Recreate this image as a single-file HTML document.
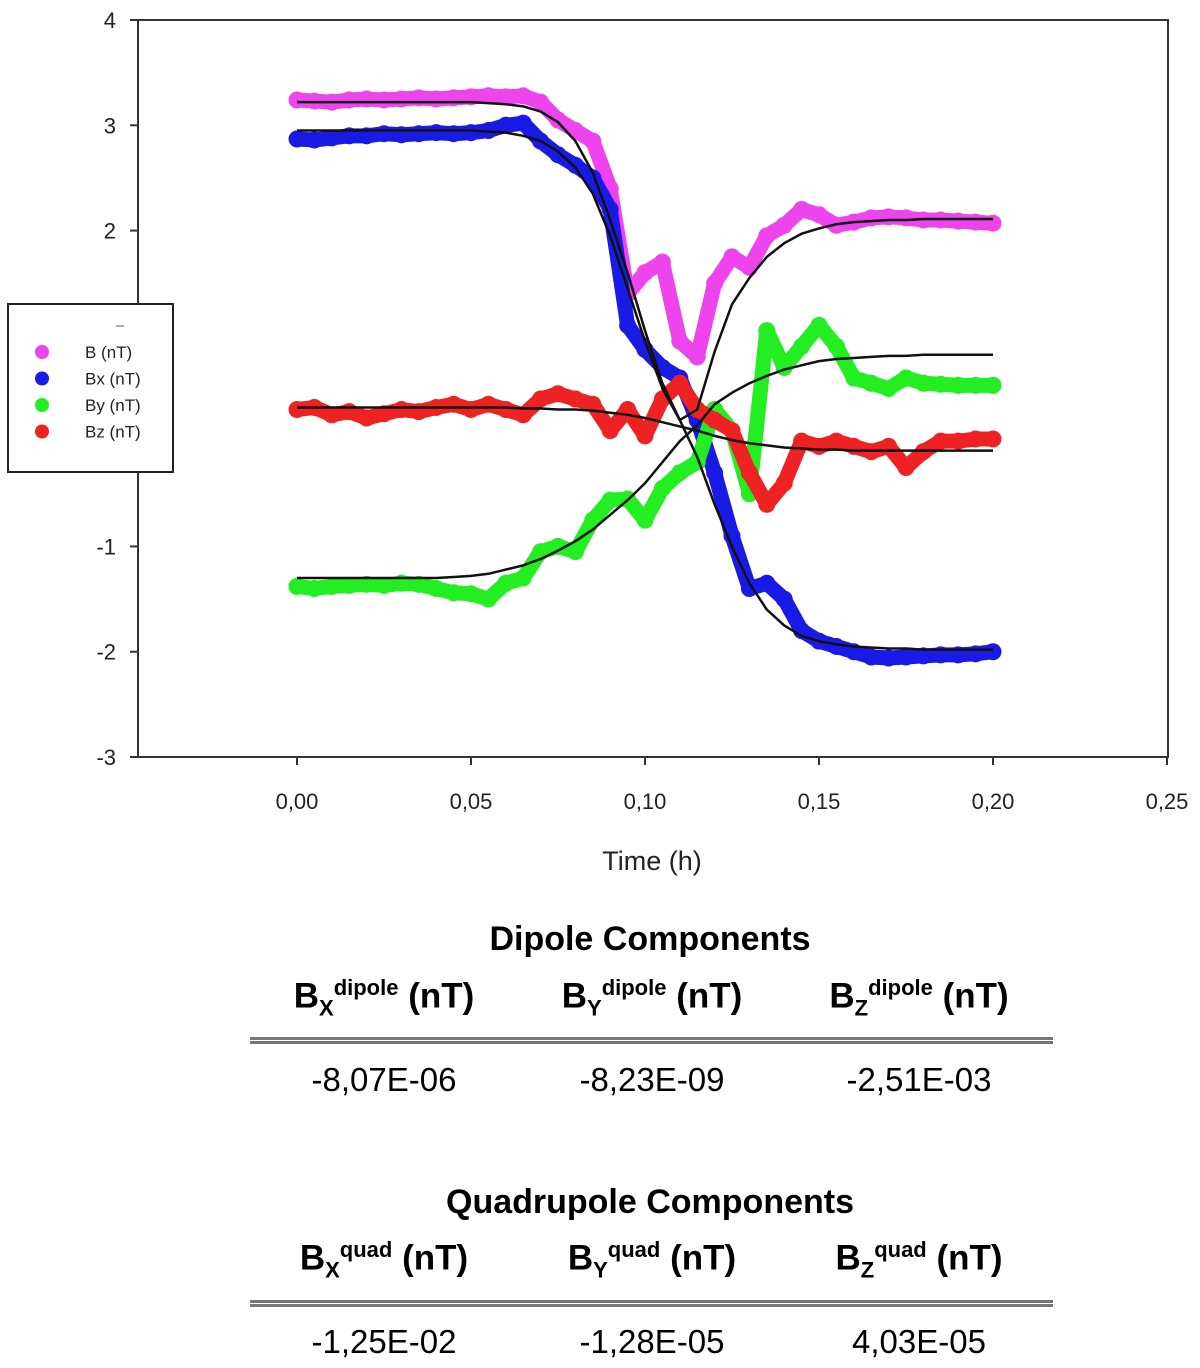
<!DOCTYPE html>
<html><head><meta charset="utf-8"><style>
body{margin:0;background:#fff;width:1200px;height:1368px;overflow:hidden;font-family:"Liberation Sans",sans-serif}
.t{position:absolute;left:50px;width:1200px;text-align:center}
.tbl{position:absolute;left:250px;width:803px}
.h{position:absolute;font-weight:bold;font-size:35px;text-align:center;width:268px}
.v{position:absolute;font-size:33px;text-align:center;width:268px}
.rule{position:absolute;left:0;width:803px;height:1px;border-top:3px solid #777;border-bottom:3px solid #777;background:#fff}
sup{font-size:22px}
sub{font-size:22px}
</style></head><body>
<svg id="chart" width="1200" height="900" style="position:absolute;left:0;top:0" font-family="Liberation Sans, sans-serif"></svg>
<div class="t" style="top:920px;font-size:34px;font-weight:bold">Dipole Components</div>
<div class="tbl" style="top:975px">
 <div class="h" style="left:0">B<sub>X</sub><sup>dipole</sup> (nT)</div>
 <div class="h" style="left:268px">B<sub>Y</sub><sup>dipole</sup> (nT)</div>
 <div class="h" style="left:535px">B<sub>Z</sub><sup>dipole</sup> (nT)</div>
 <div class="rule" style="top:62px"></div>
 <div class="v" style="left:0;top:86px">-8,07E-06</div>
 <div class="v" style="left:268px;top:86px">-8,23E-09</div>
 <div class="v" style="left:535px;top:86px">-2,51E-03</div>
</div>
<div class="t" style="top:1183px;font-size:34px;font-weight:bold">Quadrupole Components</div>
<div class="tbl" style="top:1237px">
 <div class="h" style="left:0">B<sub>X</sub><sup>quad</sup> (nT)</div>
 <div class="h" style="left:268px">B<sub>Y</sub><sup>quad</sup> (nT)</div>
 <div class="h" style="left:535px">B<sub>Z</sub><sup>quad</sup> (nT)</div>
 <div class="rule" style="top:63px"></div>
 <div class="v" style="left:0;top:86px">-1,25E-02</div>
 <div class="v" style="left:268px;top:86px">-1,28E-05</div>
 <div class="v" style="left:535px;top:86px">4,03E-05</div>
</div>
<script>
const times=[0,0.005,0.01,0.015,0.02,0.025,0.03,0.035,0.04,0.045,0.05,0.055,0.06,0.065,0.07,0.075,0.08,0.085,0.09,0.095,0.1,0.105,0.11,0.115,0.12,0.125,0.13,0.135,0.14,0.145,0.15,0.155,0.16,0.165,0.17,0.175,0.18,0.185,0.19,0.195,0.2];
const bData=[3.24,3.23,3.22,3.24,3.25,3.24,3.25,3.26,3.25,3.26,3.27,3.28,3.27,3.28,3.22,3.05,2.95,2.85,2.4,1.4,1.6,1.7,0.95,0.8,1.5,1.75,1.65,1.95,2.05,2.2,2.15,2.05,2.08,2.12,2.13,2.12,2.1,2.1,2.09,2.08,2.07];
const bxData=[2.87,2.86,2.88,2.9,2.9,2.92,2.91,2.92,2.93,2.92,2.93,2.95,3.0,3.02,2.85,2.72,2.62,2.5,2.2,1.1,0.87,0.7,0.6,0.2,-0.3,-0.9,-1.4,-1.35,-1.5,-1.8,-1.9,-1.95,-2.0,-2.05,-2.06,-2.05,-2.04,-2.03,-2.03,-2.02,-2.0];
const byData=[-1.38,-1.4,-1.38,-1.37,-1.36,-1.37,-1.35,-1.36,-1.4,-1.44,-1.45,-1.5,-1.35,-1.3,-1.05,-1.0,-1.05,-0.75,-0.56,-0.55,-0.75,-0.45,-0.3,-0.2,0.3,0.1,-0.5,1.05,0.7,0.9,1.1,0.9,0.6,0.55,0.5,0.6,0.55,0.54,0.53,0.53,0.53];
const bzData=[0.3,0.32,0.25,0.28,0.22,0.26,0.3,0.28,0.32,0.35,0.3,0.35,0.3,0.25,0.4,0.45,0.4,0.35,0.1,0.3,0.05,0.4,0.55,0.3,0.2,0.1,-0.3,-0.6,-0.4,0,-0.05,0,-0.05,-0.1,-0.05,-0.25,-0.1,0,0.0,0.02,0.02];
const bFit=[3.22,3.22,3.22,3.22,3.22,3.22,3.22,3.22,3.22,3.22,3.22,3.21,3.2,3.18,3.13,3.03,2.85,2.55,2.1,1.6,1.05,0.55,0.2,0.3,0.85,1.3,1.55,1.75,1.88,1.97,2.02,2.06,2.08,2.09,2.1,2.1,2.11,2.11,2.11,2.11,2.11];
const bxFit=[2.95,2.95,2.95,2.95,2.95,2.95,2.95,2.95,2.95,2.95,2.95,2.94,2.93,2.9,2.85,2.75,2.6,2.35,1.95,1.45,0.95,0.5,0.2,-0.15,-0.6,-1.0,-1.35,-1.6,-1.75,-1.85,-1.9,-1.93,-1.95,-1.96,-1.97,-1.97,-1.98,-1.98,-1.98,-1.98,-1.98];
const byFit=[-1.3,-1.3,-1.3,-1.3,-1.3,-1.3,-1.3,-1.3,-1.3,-1.29,-1.28,-1.26,-1.22,-1.18,-1.12,-1.04,-0.95,-0.84,-0.7,-0.56,-0.4,-0.2,0.0,0.15,0.35,0.46,0.55,0.62,0.68,0.72,0.76,0.78,0.79,0.8,0.81,0.81,0.82,0.82,0.82,0.82,0.82];
const bzFit=[0.32,0.32,0.32,0.32,0.32,0.32,0.32,0.32,0.32,0.32,0.32,0.32,0.32,0.31,0.31,0.3,0.3,0.29,0.27,0.25,0.22,0.18,0.14,0.1,0.05,0.01,-0.02,-0.04,-0.06,-0.07,-0.08,-0.08,-0.09,-0.09,-0.09,-0.09,-0.09,-0.09,-0.09,-0.09,-0.09];
const yTicks=[4,3,2,1,0,-1,-2,-3];
const yTickLabels=["4","3","2","","","-1","-2","-3"];
const xTicks=[0,0.05,0.1,0.15,0.2,0.25];
const xTickLabels=["0,00","0,05","0,10","0,15","0,20","0,25"];
const NS="http://www.w3.org/2000/svg";
const svg=document.getElementById('chart');
const L=138,R=1168,T=20,B=757;
const sx=v=>297+(v-0)*(993-297)/0.2;
const sy=v=>T+(4-v)*(B-T)/7;
function mk(tag,a,parent){const e=document.createElementNS(NS,tag);for(const k in a)e.setAttribute(k,a[k]);(parent||svg).appendChild(e);return e;}
let frame=mk('rect',{x:L,y:T,width:R-L,height:B-T,fill:'none',stroke:'#333','stroke-width':2});


yTicks.forEach((v,i)=>{
 let tk=mk('line',{x1:L-8,x2:L,y1:sy(v),y2:sy(v),stroke:'#333','stroke-width':2});
 
 
 let tx=mk('text',{x:L-22,y:sy(v)+8,'text-anchor':'end','font-size':22,fill:'#222'});tx.textContent=yTickLabels[i];
 
 
});
xTicks.forEach((v,i)=>{
 let tk=mk('line',{x1:sx(v),x2:sx(v),y1:B,y2:B+8,stroke:'#333','stroke-width':2});
 
 
 let tx=mk('text',{x:sx(v),y:B+52,'text-anchor':'middle','font-size':22,fill:'#222'});tx.textContent=xTickLabels[i];
 
 
});
let xt=mk('text',{x:652,y:870,'text-anchor':'middle','font-size':27,fill:'#222'});xt.textContent='Time (h)';


const series=[[bData,'#ee44ee','b'],[bxData,'#1a1ae6','bx'],[byData,'#22ee22','by'],[bzData,'#ee2222','bz']];
series.forEach(([d,c,n])=>{
 const g=mk('g',{});
 
 
 let p=d.map((v,i)=>(i?'L':'M')+sx(times[i])+','+sy(v)).join('');
 mk('path',{d:p,stroke:c,'stroke-width':15,fill:'none','stroke-linejoin':'round','stroke-linecap':'round'},g);
 d.forEach((v,i)=>{
  let pt=mk('circle',{cx:sx(times[i]),cy:sy(v),r:8.5,fill:c},g);
  
  
 });
});
[bFit,bxFit,byFit,bzFit].forEach((d,k)=>{
 let p=d.map((v,i)=>(i?'L':'M')+sx(times[i])+','+sy(v)).join('');
 let ln=mk('path',{d:p,stroke:'#111','stroke-width':2.5,fill:'none','stroke-linejoin':'round'});
 
 
});
const lg=mk('g',{});


mk('rect',{x:8,y:304,width:165,height:168,fill:'#fff',stroke:'#222','stroke-width':2},lg);
mk('line',{x1:116,x2:124,y1:326,y2:326,stroke:'#555','stroke-width':1},lg);
const legLabels=['B (nT)','Bx (nT)','By (nT)','Bz (nT)'];
const legColors=['#ee44ee','#1a1ae6','#22ee22','#ee2222'];
legLabels.forEach((t,i)=>{
 const y=352+i*26.5;
 let c=mk('circle',{cx:42,cy:y,r:7,fill:legColors[i]},lg);
 
 
 let tx=mk('text',{x:85,y:y+6,'font-size':17,fill:'#222'},lg);tx.textContent=t;
 
 
});
</script>
</body></html>
